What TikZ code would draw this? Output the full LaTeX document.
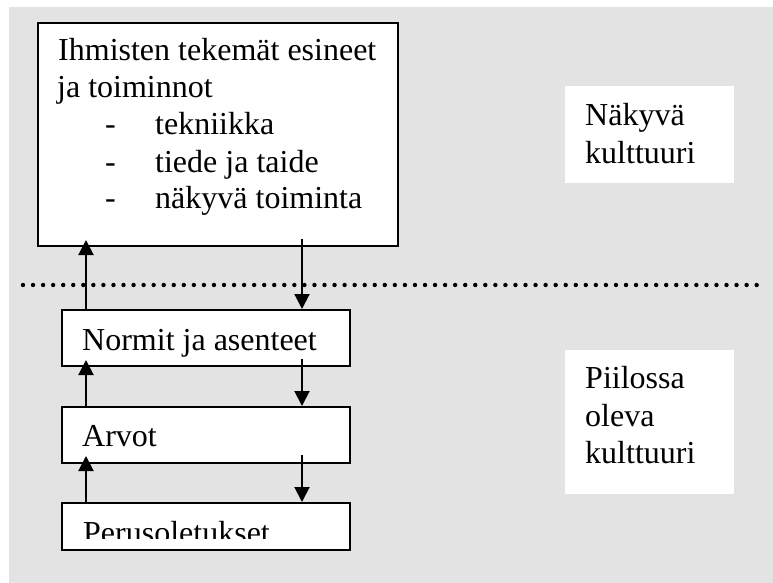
\documentclass[tikz,border=0pt]{standalone}
\usepackage{fontspec}
\setmainfont{Liberation Serif}
\usetikzlibrary{arrows.meta}
\definecolor{bggray}{HTML}{E3E3E3}
\begin{document}
\begin{tikzpicture}[x=1pt,y=-1pt,
  box/.style={draw=black,line width=2pt,fill=white,inner sep=0pt,anchor=north west},
  lblbox/.style={fill=white,inner sep=0pt,anchor=north west},
  txt/.style={inner sep=0pt,anchor=base west,font=\fontsize{32}{37}\selectfont},
  arr/.style={line width=2pt,-{Triangle[width=15pt,length=15pt]}},
  dots/.style={line width=4.4pt,line cap=round,dash pattern=on 0pt off 10.05pt}]
\useasboundingbox (0,0) rectangle (773,583);
\fill[bggray] (9,7) rectangle (773,583);
% boxes
\node[box,minimum width=360pt,minimum height=223pt] (top) at (37,22) {};
\node[box,minimum width=288pt,minimum height=56pt] (normit) at (61,309) {};
\node[box,minimum width=288pt,minimum height=56pt] (arvot) at (61,406) {};
\node[box,minimum width=288pt,minimum height=47pt] (perus) at (61,502) {};
\node[lblbox,minimum width=169pt,minimum height=97pt] (nlbl) at (565,86) {};
\node[lblbox,minimum width=169pt,minimum height=144pt] (plbl) at (565,350) {};
% top box text
\node[txt] (t1) at (58,61) {Ihmisten tekemät esineet};
\node[txt] (t2) at (57,98) {ja toiminnot};
\node[txt] (d1) at (105,135) {-};
\node[txt] (d2) at (105,172) {-};
\node[txt] (d3) at (105,208) {-};
\node[txt] (t3) at (155,135) {tekniikka};
\node[txt] (t4) at (155,172) {tiede ja taide};
\node[txt] (t5) at (155,208) {näkyvä toiminta};
% inner box texts (clipped like text frames)
\begin{scope}
\clip (61,310) rectangle (349,356);
\node[txt] (tn) at (82,350) {Normit ja asenteet};
\end{scope}
\node[txt] (ta) at (82,446) {Arvot};
\begin{scope}
\clip (61,503) rectangle (349,538);
\node[txt] (tp) at (83,543) {Perusoletukset};
\end{scope}
% side labels
\node[txt] (n1) at (585,125) {Näkyvä};
\node[txt] (n2) at (585,163) {kulttuuri};
\node[txt] (p1) at (585,388) {Piilossa};
\node[txt] (p2) at (585,426) {oleva};
\node[txt] (p3) at (585,463) {kulttuuri};
% dotted separator
\coordinate (sepL) at (23,285);
\coordinate (sepR) at (762,285);
\draw[dots] (sepL) -- (sepR);
% arrows
\coordinate (L) at (86,0);
\coordinate (R) at (302,0);
\draw[arr] (normit.north -| L) -- ([yshift=7pt]top.south -| L);
\draw[arr] ([yshift=8pt]top.south -| R) -- (normit.north -| R);
\draw[arr] (arvot.north -| L) -- ([yshift=7pt]normit.south -| L);
\draw[arr] ([yshift=8pt]normit.south -| R) -- (arvot.north -| R);
\draw[arr] (perus.north -| L) -- ([yshift=8pt]arvot.south -| L);
\draw[arr] ([yshift=9pt]arvot.south -| R) -- (perus.north -| R);
\end{tikzpicture}
\end{document}
